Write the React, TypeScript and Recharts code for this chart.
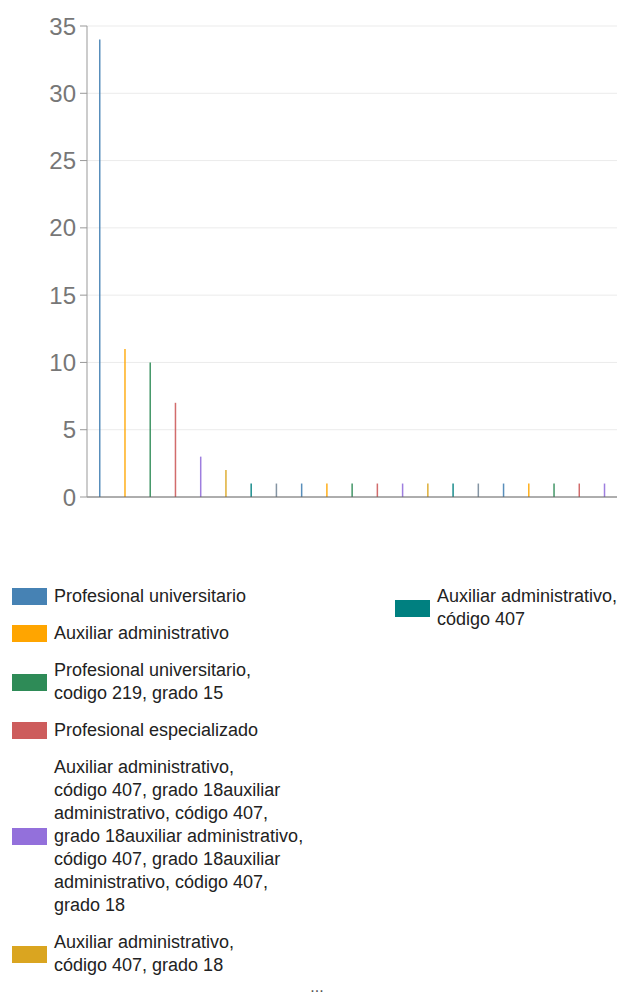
import { BarChart, Bar, XAxis, YAxis, CartesianGrid, Cell } from "recharts";

const categories = [
  "Profesional universitario",
  "Auxiliar administrativo",
  "Profesional universitario,\ncodigo 219, grado 15",
  "Profesional especializado",
  "Auxiliar administrativo,\ncódigo 407, grado 18auxiliar\nadministrativo, código 407,\ngrado 18auxiliar administrativo,\ncódigo 407, grado 18auxiliar\nadministrativo, código 407,\ngrado 18",
  "Auxiliar administrativo,\ncódigo 407, grado 18",
  "Auxiliar administrativo,\ncódigo 407",
  "Técnico administrativo",
  "Secretario ejecutivo",
  "Conductor mecánico",
  "Técnico operativo",
  "Auxiliar de servicios generales",
  "Profesional universitario, código 219, grado 11",
  "Secretaria",
  "Técnico administrativo, código 367",
  "Inspector de tránsito",
  "Almacenista general",
  "Auxiliar área salud",
  "Profesional universitario, código 219, grado 09",
  "Tesorero general",
  "Comisario de familia",
];

const counts = [34, 11, 10, 7, 3, 2, 1, 1, 1, 1, 1, 1, 1, 1, 1, 1, 1, 1, 1, 1, 1];

const palette = [
  "#4682b4",
  "#ffa500",
  "#2e8b57",
  "#cd5c5c",
  "#9370db",
  "#daa520",
  "#008080",
  "#778899",
];

const yTicks = [0, 5, 10, 15, 20, 25, 30, 35];

const data = categories.map((name, i) => ({ name, value: counts[i] }));

const leftLegend = [0, 1, 2, 3, 4, 5];
const rightLegend = [6];

const LegendItem = ({ idx }: { idx: number }) => (
  <div style={{ display: "flex", alignItems: "center", marginBottom: 14 }}>
    <div
      style={{
        width: 35,
        height: 17,
        backgroundColor: palette[idx % palette.length],
        flexShrink: 0,
        marginRight: 7,
      }}
    />
    <div style={{ whiteSpace: "pre", fontSize: 18, lineHeight: "23px", color: "#222" }}>
      {categories[idx]}
    </div>
  </div>
);

export default function App() {
  return (
    <div
      style={{
        position: "absolute",
        left: 0,
        top: 0,
        width: 617,
        height: 996,
        overflow: "hidden",
        background: "#fff",
        fontFamily: "'Liberation Sans', Arial, sans-serif",
      }}
    >
      <BarChart
        width={617}
        height={540}
        data={data}
        margin={{ top: 26, right: 0, bottom: 13, left: 0 }}
      >
        <CartesianGrid vertical={false} stroke="#ebebeb" />
        <XAxis dataKey="name" tick={false} height={30} stroke="#666" tickLine={false} />
        <YAxis
          width={87}
          domain={[0, 35]}
          ticks={yTicks}
          interval={0}
          stroke="#999"
          tickSize={7}
          tickMargin={4}
          tick={{ fontSize: 24, fill: "#777" }}
        />
        <Bar dataKey="value" barSize={1.5} isAnimationActive={false}>
          {data.map((d, i) => (
            <Cell key={d.name} fill={palette[i % palette.length]} fillOpacity={0.9} />
          ))}
        </Bar>
      </BarChart>
      <div style={{ position: "absolute", left: 12, top: 585 }}>
        {leftLegend.map((i) => (
          <LegendItem key={i} idx={i} />
        ))}
      </div>
      <div style={{ position: "absolute", left: 395, top: 585 }}>
        {rightLegend.map((i) => (
          <LegendItem key={i} idx={i} />
        ))}
      </div>
      <div
        style={{
          position: "absolute",
          left: 0,
          width: 634,
          top: 978,
          textAlign: "center",
          fontSize: 16,
          color: "#555",
        }}
      >
        ...
      </div>
    </div>
  );
}
